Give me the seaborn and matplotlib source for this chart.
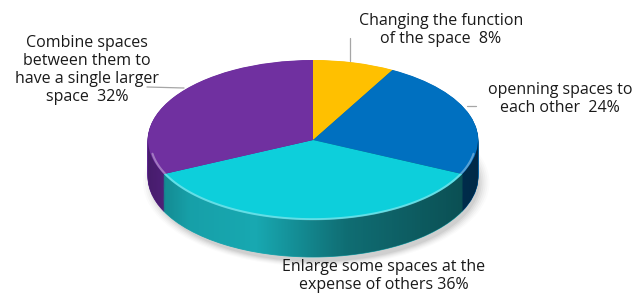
import matplotlib.pyplot as plt
import seaborn as sns
import numpy as np
from matplotlib.patches import Polygon

labels = ["Changing the function\nof the space  8%",
          "openning spaces to\neach other  24%",
          "Enlarge some spaces at the\nexpense of others 36%",
          "Combine spaces\nbetween them to\nhave a single larger\nspace  32%"]
shares = [8, 24, 36, 32]
top_colors = ["#FFC000", "#0070C0", "#0DCFDB", "#7030A0"]
side_colors = ["#D9A200", "#005C9E", "#18A8B1", "#5E2690"]

sns.set_theme(style="white")
plt.rcParams['font.family'] = ['Open Sans', 'DejaVu Sans']

# pie centre / radii in pixels, used to squash the unit pie into an ellipse
cx, cy, rx, ry = 313, 140, 165, 80
depth = 37 / ry

def to_data(px, py):
    return (px - cx) / rx, (cy - py) / ry

fig = plt.figure(figsize=(6.35, 2.94), dpi=100)
ax = fig.add_axes([0, 0, 1, 1])

# soft shadow
for k, a in enumerate(np.linspace(0.015, 0.05, 6)):
    ax.pie([1], colors=["#000000"], radius=1.05 - k * 0.012, center=(0.02, -depth - 0.07),
           wedgeprops=dict(alpha=a, linewidth=0), frame=True)

# side of the pie: stacked copies shifted down
for d in np.linspace(depth, 0.01, 40):
    ax.pie(shares, colors=side_colors, startangle=90, counterclock=False,
           center=(0, -d), radius=1, frame=True,
           wedgeprops=dict(linewidth=0.6))
    for w, c in zip(ax.patches[-4:], side_colors):
        w.set_edgecolor(c)

# shading of the side wall
t = np.linspace(0, 2 * np.pi, 300)
outline = np.column_stack([np.cos(t), np.where(np.sin(t) >= 0, np.sin(t), np.sin(t) - depth)])
clip = Polygon(outline, closed=True, transform=ax.transData, facecolor="none", edgecolor="none")
ax.add_patch(clip)
gx = np.linspace(-1, 1, 200)
shade = np.interp(gx, [-1, -0.75, -0.35, 0.2, 1], [0.25, 0.05, 0.0, 0.35, 0.55])
img = np.zeros((1, 200, 4))
img[..., 3] = shade
im = ax.imshow(img, extent=(-1, 1, -1 - depth, 0), aspect="auto", interpolation="bilinear", zorder=1.5)
im.set_clip_path(clip)

# top face
ax.pie(shares, colors=top_colors, startangle=90, counterclock=False,
       center=(0, 0), radius=1, frame=True, wedgeprops=dict(linewidth=0, zorder=2))

# light rim along the front edge
tf = np.linspace(np.pi * 1.05, np.pi * 1.95, 100)
ax.plot(np.cos(tf) * 0.985, np.sin(tf) * 0.97 - 0.02, color="white", alpha=0.35, lw=1.5, zorder=2.5)

ax.set_aspect("auto")
ax.set_xlim((0 - cx) / rx, (635 - cx) / rx)
ax.set_ylim((cy - 294) / ry, (cy - 0) / ry)
ax.axis("off")

# labels (pixel positions) and leader lines
label_pos = [(441, 30), (560, 99), (384, 276), (87, 70)]
leaders = [((350, 38), (350, 61)), ((467, 106), (476, 106)), None, ((147, 87), (184, 88))]
for lab, (px, py), ld in zip(labels, label_pos, leaders):
    x, y = to_data(px, py)
    ax.text(x, y, lab, ha="center", va="center", fontsize=11.5,
            color="#1a1a1a", linespacing=1.15, zorder=3)
    if ld:
        (x0, y0), (x1, y1) = to_data(*ld[0]), to_data(*ld[1])
        ax.plot([x0, x1], [y0, y1], color="#a6a6a6", lw=0.9, zorder=1)

fig.savefig("out.png", dpi=100)
